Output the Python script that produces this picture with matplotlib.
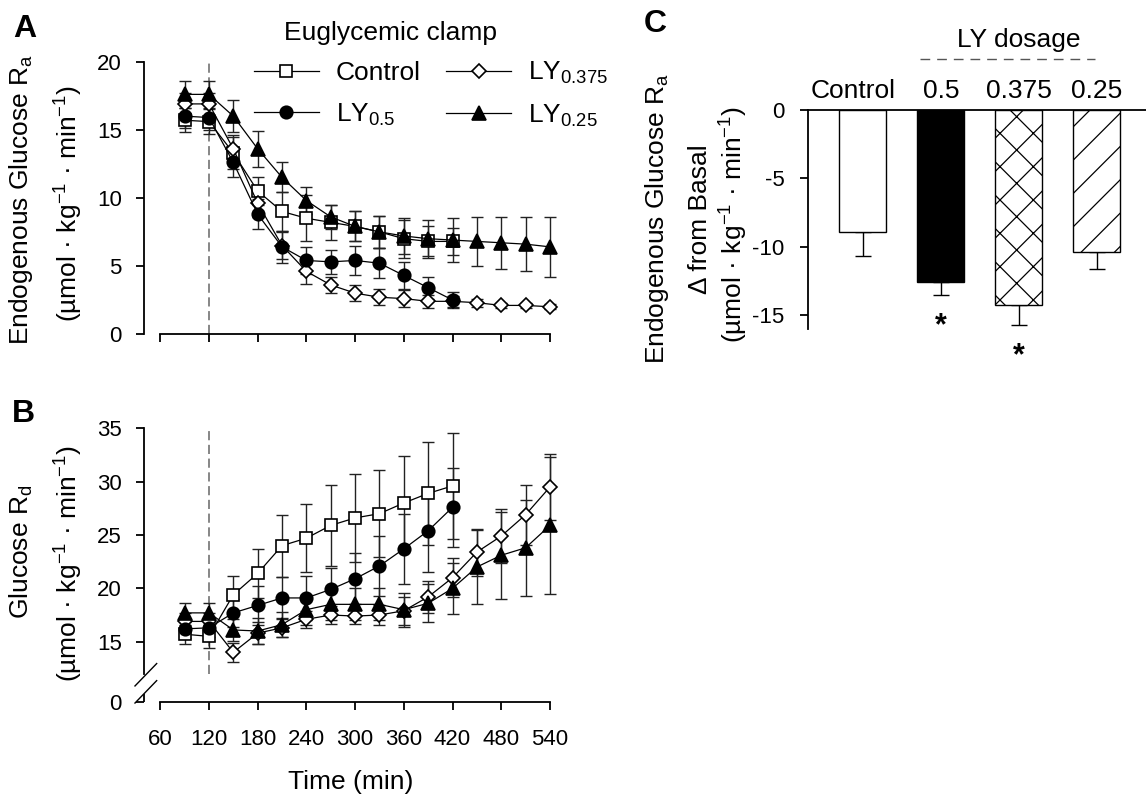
import numpy as np
import matplotlib
matplotlib.use('Agg')
import matplotlib.pyplot as plt

plt.rcParams['font.family'] = ['Liberation Sans', 'DejaVu Sans']
plt.rcParams['mathtext.fontset'] = 'custom'
plt.rcParams['mathtext.rm'] = 'Liberation Sans'
plt.rcParams['mathtext.default'] = 'regular'
plt.rcParams['axes.unicode_minus'] = False
plt.rcParams['hatch.linewidth'] = 0.9

# ── data ──
t_short = [90, 120, 150, 180, 210, 240, 270, 300, 330, 360, 390, 420]
t_long = [90, 120, 150, 180, 210, 240, 270, 300, 330, 360, 390, 420, 450, 480, 510, 540]
CLAMP_START = 120

# panel A: endogenous glucose Ra
ra_ctrl = [15.7, 15.6, 13.3, 10.5, 9.0, 8.5, 8.2, 7.9, 7.5, 7.0, 6.8, 6.8]
ra_ctrl_se = [0.9, 0.9, 1.2, 1.0, 1.4, 1.7, 1.3, 1.1, 1.2, 1.4, 1.1, 1.0]
ra_ly05 = [16.0, 15.9, 12.6, 8.8, 6.4, 5.4, 5.3, 5.4, 5.2, 4.3, 3.4, 2.5]
ra_ly05_se = [0.9, 0.9, 1.1, 1.1, 1.2, 1.0, 0.9, 1.1, 1.1, 1.0, 0.8, 0.6]
ra_ly0375 = [16.9, 16.9, 13.6, 9.6, 6.5, 4.6, 3.6, 3.0, 2.7, 2.6, 2.4, 2.4, 2.3, 2.1, 2.1, 2.0]
ra_ly0375_se = [0.8, 0.8, 1.0, 1.0, 1.0, 0.9, 0.6, 0.6, 0.6, 0.6, 0.5, 0.4, 0.3, 0.2, 0.2, 0.2]
ra_ly025 = [17.6, 17.6, 16.0, 13.6, 11.5, 9.8, 8.6, 7.9, 7.5, 7.2, 7.0, 6.9, 6.8, 6.7, 6.6, 6.4]
ra_ly025_se = [1.0, 1.0, 1.2, 1.3, 1.1, 1.0, 0.9, 1.1, 1.2, 1.3, 1.4, 1.6, 1.8, 1.9, 2.0, 2.2]

# panel B: glucose Rd
rd_ctrl = [15.7, 15.5, 19.4, 21.4, 24.0, 24.7, 25.9, 26.6, 27.0, 28.0, 28.9, 29.6]
rd_ctrl_se = [0.9, 1.1, 1.8, 2.3, 2.9, 3.2, 3.8, 4.1, 4.1, 4.4, 4.8, 5.0]
rd_ly05 = [16.2, 16.3, 17.7, 18.4, 19.1, 19.1, 19.9, 20.9, 22.1, 23.7, 25.4, 27.6]
rd_ly05_se = [0.9, 0.9, 1.3, 1.8, 2.0, 2.1, 2.0, 2.4, 2.8, 3.3, 3.9, 3.7]
rd_ly0375 = [16.9, 16.9, 14.0, 15.8, 16.3, 17.1, 17.5, 17.4, 17.5, 17.9, 19.2, 21.0, 23.4, 24.9, 26.9, 29.5]
rd_ly0375_se = [0.8, 0.8, 0.9, 1.0, 0.9, 0.8, 0.8, 0.7, 0.9, 1.3, 1.5, 1.8, 2.2, 2.5, 2.8, 3.1]
rd_ly025 = [17.7, 17.7, 16.1, 16.0, 16.6, 18.0, 18.5, 18.5, 18.5, 18.0, 18.6, 20.0, 22.0, 23.1, 23.8, 25.9]
rd_ly025_se = [0.9, 0.9, 1.0, 1.2, 1.2, 1.4, 1.5, 1.5, 1.5, 1.6, 1.8, 2.4, 3.5, 4.1, 4.5, 6.4]

# panel C: change from basal
groups = ['Control', '0.5', '0.375', '0.25']
delta = [-8.9, -12.6, -14.3, -10.4]
delta_se = [1.8, 0.9, 1.4, 1.25]
signif = [False, True, True, False]

W, H = 1146, 795
fig = plt.figure(figsize=(W / 100, H / 100), dpi=100)


def box(l, t, r, b):
    return [l / W, 1 - b / H, (r - l) / W, (b - t) / H]


axA = fig.add_axes(box(144, 61.7, 558.1, 334))
axB = fig.add_axes(box(144, 428.3, 558.1, 701.7))
axC = fig.add_axes(box(808.3, 110, 1146, 328.7))

RD_BOTTOM = 9.375   # position of the "0" below the axis break
RD_BREAK = 12.0

styles = {
    'ctrl': dict(marker='s', mfc='white', ms=8.5, label='Control'),
    'ly0375': dict(marker='D', mfc='white', ms=7.2, label='LY$_{0.375}$'),
    'ly05': dict(marker='o', mfc='black', ms=9.0, label='LY$_{0.5}$'),
    'ly025': dict(marker='^', mfc='black', ms=9.5, label='LY$_{0.25}$'),
}


def draw(ax, t, y, se, st):
    ax.errorbar(t, y, yerr=se, fmt='none', ecolor='#222222', elinewidth=1,
                capsize=4.5, capthick=1, zorder=2, clip_on=False)
    ln, = ax.plot(t, y, color='black', lw=0.9, marker=st['marker'], ms=st['ms'],
                  mfc=st['mfc'], mec='black', mew=1.2, zorder=3, clip_on=False,
                  label=st['label'])
    return ln


hA = {}
hA['ctrl'] = draw(axA, t_short, ra_ctrl, ra_ctrl_se, styles['ctrl'])
hA['ly0375'] = draw(axA, t_long, ra_ly0375, ra_ly0375_se, styles['ly0375'])
hA['ly05'] = draw(axA, t_short, ra_ly05, ra_ly05_se, styles['ly05'])
hA['ly025'] = draw(axA, t_long, ra_ly025, ra_ly025_se, styles['ly025'])

draw(axB, t_short, rd_ctrl, rd_ctrl_se, styles['ctrl'])
draw(axB, t_long, rd_ly0375, rd_ly0375_se, styles['ly0375'])
draw(axB, t_short, rd_ly05, rd_ly05_se, styles['ly05'])
draw(axB, t_long, rd_ly025, rd_ly025_se, styles['ly025'])

xticks = [60, 120, 180, 240, 300, 360, 420, 480, 540]
for ax in (axA, axB):
    ax.set_xlim(40, 550)
    ax.spines[['top', 'right']].set_visible(False)
    for s in ('left', 'bottom'):
        ax.spines[s].set_linewidth(1.3)
    ax.spines['bottom'].set_bounds(60, 540)
    ax.set_xticks(xticks)
    ax.tick_params(axis='both', direction='out', length=6, width=1.3, labelsize=16)
    ax.tick_params(axis='y', pad=10)
    ax.tick_params(axis='x', pad=14)

axA.set_ylim(0, 20)
axA.set_yticks([0, 5, 10, 15, 20])
axA.tick_params(axis='x', labelbottom=False)
axA.vlines(CLAMP_START, 0, 20, color='#666666', lw=1.1, linestyles=(0, (6, 3)), zorder=1)

axB.set_ylim(RD_BOTTOM, 35)
axB.set_yticks([RD_BOTTOM, 15, 20, 25, 30, 35])
axB.set_yticklabels(['0', '15', '20', '25', '30', '35'])
axB.spines['left'].set_bounds(RD_BREAK, 35)
axB.plot([40, 40], [RD_BOTTOM, 10.1], color='black', lw=1.3, clip_on=False,
         solid_capstyle='butt')
# axis break marks
for y0 in (10.85, 9.25):
    axB.plot([28.9, 55.6], [y0, y0 + 2.1], color='black', lw=1, clip_on=False)
axB.vlines(CLAMP_START, RD_BREAK, 35, color='#666666', lw=1.1, linestyles=(0, (6, 3)), zorder=1)
axB.set_xticklabels([str(v) for v in xticks])
axB.set_xlabel('Time (min)', fontsize=19, labelpad=14)

# legend
fig.text(390.7 / W, 1 - 33 / H, 'Euglycemic clamp', fontsize=19, ha='center', va='center')
axA.legend([hA['ctrl'], hA['ly05'], hA['ly0375'], hA['ly025']],
           ['Control', 'LY$_{0.5}$', 'LY$_{0.375}$', 'LY$_{0.25}$'],
           ncol=2, frameon=False, fontsize=19, numpoints=1,
           loc='upper left', bbox_to_anchor=(254 / W, 1 - 60 / H),
           bbox_transform=fig.transFigure, borderpad=0, borderaxespad=0,
           handlelength=2.46, handletextpad=0.64, columnspacing=0.97,
           labelspacing=0.62)

# y labels
unit = '(µmol · kg$^{-1}$ · min$^{-1}$)'
fig.text(21.5 / W, 1 - 199 / H, 'Endogenous Glucose R$_{a}$', rotation=90,
         fontsize=19, ha='center', va='center')
fig.text(69 / W, 1 - 204 / H, unit, rotation=90, fontsize=19, ha='center', va='center')
fig.text(21.7 / W, 1 - 552 / H, 'Glucose R$_{d}$', rotation=90,
         fontsize=19, ha='center', va='center')
fig.text(69 / W, 1 - 564 / H, unit, rotation=90, fontsize=19, ha='center', va='center')

# panel C
xc = np.arange(len(groups))
faces = ['white', 'black', 'white', 'white']
hatches = [None, None, 'x', '/']
bars = axC.bar(xc, delta, width=0.6, color=faces, edgecolor='black', linewidth=1.0, zorder=2)
for b, h in zip(bars, hatches):
    if h:
        b.set_hatch(h)
axC.errorbar(xc, delta, yerr=[delta_se, [0] * len(delta)], fmt='none', ecolor='black',
             elinewidth=1, capsize=6, capthick=1, zorder=1)
for i, s in enumerate(signif):
    if s:
        axC.annotate('*', (xc[i], delta[i] - delta_se[i]), xytext=(0, -12),
                     textcoords='offset points', ha='center', va='top',
                     fontsize=22, fontweight='bold')

axC.set_xlim(-0.7, 3.63)
axC.set_ylim(-16, 0)
axC.set_yticks([0, -5, -10, -15])
axC.spines[['right', 'bottom']].set_visible(False)
axC.spines['left'].set_linewidth(1.3)
axC.spines['top'].set_linewidth(1.3)
axC.tick_params(axis='y', direction='out', length=6, width=1.3, labelsize=16, pad=11)
axC.set_xticks([])
for i, g in enumerate(groups):
    dx = -7 if g == 'Control' else 0
    axC.annotate(g, (xc[i], 1), xycoords=('data', 'axes fraction'), xytext=(dx, 5),
                 textcoords='offset points', ha='center', va='bottom', fontsize=19)
axC.plot([0.73, 2.97], [1.232, 1.232], transform=axC.get_xaxis_transform(),
         color='#555555', lw=1, ls=(0, (7, 5)), clip_on=False)
axC.text(2.0, 1.32, 'LY dosage', transform=axC.get_xaxis_transform(),
         ha='center', va='center', fontsize=19)

fig.text(657 / W, 1 - 218 / H, 'Endogenous Glucose R$_{a}$', rotation=90,
         fontsize=19, ha='center', va='center')
fig.text(700 / W, 1 - 219 / H, 'Δ from Basal', rotation=90,
         fontsize=19, ha='center', va='center')
fig.text(734 / W, 1 - 225 / H, unit, rotation=90, fontsize=19, ha='center', va='center')

# panel letters
for lbl, (px, py) in {'A': (25, 29), 'B': (23.5, 413.5), 'C': (655, 23.5)}.items():
    fig.text(px / W, 1 - py / H, lbl, fontsize=23, fontweight='bold', ha='center', va='center')

fig.savefig('out.png', dpi=100)
